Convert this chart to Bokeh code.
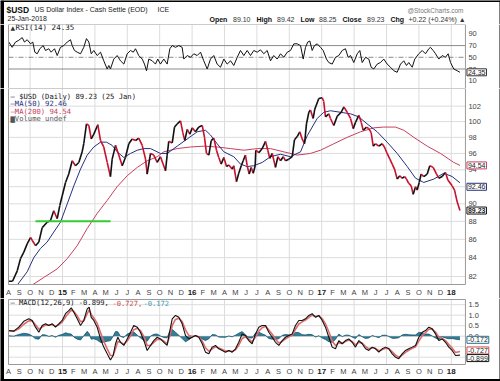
from bokeh.plotting import figure
from bokeh.layouts import column
from bokeh.models import Range1d, Label, Span
from bokeh.core.properties import value
from bokeh.embed import file_html
from bokeh.resources import INLINE

# ---------------- data (x = months since 1 Aug 2014) ----------------
price_t = [0.00,0.37,0.81,1.11,1.42,1.73,2.04,2.19,2.50,2.81,
           3.12,3.58,3.89,4.19,4.51,4.75,4.97,5.28,5.58,5.90,
           6.20,6.51,6.82,6.97,7.22,7.44,7.66,7.90,8.27,8.52,
           8.82,9.14,9.44,9.60,9.91,10.21,10.53,10.83,11.14,11.45,
           11.76,12.06,12.38,12.69,12.84,13.15,13.45,13.77,14.07,14.54,
           14.69,14.84,15.16,15.37,15.62,15.93,16.14,16.32,16.55,16.79,
           17.01,17.31,17.62,17.94,18.15,18.33,18.55,18.77,19.01,19.26,
           19.47,19.69,19.94,20.19,20.40,20.71,20.86,21.11,21.32,21.55,
           21.73,21.94,22.10,22.29,22.47,22.66,22.84,22.90,23.18,23.49,
           23.80,24.01,24.19,24.42,24.72,24.94,25.19,25.44,25.65,25.95,
           26.27,26.48,26.73,26.97,27.19,27.41,27.59,27.81,27.96,28.21,
           28.36,28.73,29.05,29.19,29.35,29.66,29.81,30.12,30.44,30.81,
           31.05,31.36,31.67,31.92,32.13,32.44,32.66,32.84,33.15,33.36,
           33.58,33.77,33.98,34.29,34.60,34.81,35.06,35.31,35.53,35.74,
           35.99,36.23,36.45,36.67,36.85,37.06,37.29,37.47,37.69,37.84,
           38.03,38.21,38.45,38.77,39.01,39.32,39.63,39.84,40.16,40.46,
           40.68,41.08,41.30,41.55,41.80]
price = [81.5,81.5,82.6,83.9,84.6,85.5,86.2,85.9,85.3,85.7,
         87.3,87.9,88.1,89.2,88.3,89.8,90.9,92.5,93.5,95.1,
         94.5,94.9,96.2,97.2,99.7,99.5,97.8,98.4,99.6,97.6,
         96.8,94.9,93.2,95.3,97.0,95.8,94.5,95.5,97.2,97.8,
         97.6,97.9,97.0,95.3,93.5,96.0,95.8,94.9,95.6,93.9,
         95.8,97.5,97.3,99.3,99.7,100.1,98.6,97.6,99.0,98.4,
         99.2,98.7,99.3,99.5,98.0,96.0,95.8,97.6,97.9,96.4,
         95.5,94.7,95.5,94.4,94.6,94.1,94.5,92.6,93.6,94.5,
         95.1,95.8,94.5,93.5,94.3,93.6,94.5,96.4,96.1,96.6,
         97.5,96.4,95.4,96.0,94.3,95.6,95.1,95.6,95.1,95.3,
         95.6,97.7,98.1,98.7,97.8,97.2,99.7,101.2,101.5,100.4,
         101.6,103.0,103.1,102.6,100.6,101.0,100.4,99.5,100.7,101.2,
         101.9,101.2,100.4,99.1,99.9,100.8,99.9,98.9,99.3,99.1,
         98.6,96.9,97.2,96.9,97.2,96.8,96.0,95.3,94.7,94.1,
         92.9,93.3,93.0,93.2,92.9,92.4,92.1,91.1,92.0,91.6,
         92.5,93.5,93.2,93.5,94.5,94.3,93.5,93.0,93.2,93.7,
         92.8,92.1,91.6,90.2,89.23]

ma50_t = [0.74,1.73,2.34,2.96,3.58,4.19,4.81,5.44,6.05,6.67,
          7.29,7.90,8.52,9.07,9.60,10.06,10.68,11.30,11.92,12.53,
          13.15,14.07,14.69,15.62,16.55,17.47,18.24,18.70,19.32,19.94,
          20.86,21.48,22.10,22.71,23.49,24.26,25.19,26.11,27.04,27.66,
          28.58,29.19,29.81,30.74,31.67,32.44,33.21,34.14,35.06,35.99,
          36.92,37.69,38.45,39.38,40.31,41.08,41.80]
ma50 = [81.0,82.5,84.0,85.0,85.7,86.8,87.9,90.0,92.1,94.1,
        95.8,96.8,97.4,97.4,97.0,96.2,95.5,96.0,96.4,96.6,
        96.6,96.0,96.0,96.9,97.8,98.7,98.9,98.3,97.2,96.2,
        95.6,94.7,94.4,94.5,94.9,95.6,95.9,95.6,96.2,98.2,
        100.4,101.2,101.4,101.2,101.0,100.6,99.7,98.7,97.4,96.0,
        94.4,93.0,92.5,92.9,93.6,93.2,92.46]

ma200_t = [2.04,3.27,4.51,5.44,6.36,7.29,8.21,9.14,10.06,10.99,
           11.92,12.84,13.77,14.38,15.62,16.85,18.08,19.32,20.56,21.79,
           23.03,24.26,25.49,26.73,27.96,28.89,30.12,31.36,32.59,33.82,
           34.75,35.83,36.60,37.53,38.77,40.00,41.23,41.80]
ma200 = [81.0,81.9,82.8,83.9,85.3,87.2,88.9,90.4,92.0,93.3,
         94.3,95.1,95.6,96.2,96.6,96.8,96.9,96.8,96.6,96.4,
         96.6,96.6,96.2,95.8,96.0,96.4,97.2,98.0,98.7,99.2,
         99.3,99.3,98.9,98.0,96.9,96.0,94.9,94.54]

rsi_t = [0.03,0.34,0.65,0.95,1.27,1.48,1.73,2.04,2.25,2.44,
         2.66,2.90,3.21,3.43,3.73,3.95,4.26,4.51,4.81,5.12,
         5.44,5.74,5.90,6.11,6.36,6.67,6.97,7.22,7.44,7.66,
         7.90,8.21,8.52,8.82,9.14,9.29,9.44,9.75,10.06,10.37,
         10.68,10.99,11.30,11.55,11.76,12.06,12.38,12.59,12.78,12.99,
         13.31,13.61,13.82,14.07,14.38,14.69,14.94,15.16,15.46,15.77,
         16.08,16.23,16.55,16.85,17.16,17.47,17.78,18.08,18.40,18.70,
         19.01,19.32,19.63,19.94,20.25,20.56,20.86,21.18,21.48,21.79,
         22.10,
         22.41,22.71,23.03,23.33,23.64,23.95,24.26,24.56,24.88,25.19,
         25.49,25.81,26.11,26.42,26.73,27.04,27.29,27.50,27.71,27.90,
         28.12,28.33,28.58,28.89,29.14,29.44,29.66,29.97,30.28,30.58,
         30.90,31.20,31.45,31.67,31.97,32.29,32.53,32.75,33.06,33.36,
         33.58,33.82,34.14,34.44,34.75,35.06,35.37,35.68,35.99,36.30,
         36.60,36.85,37.06,37.38,37.62,37.99,38.31,38.61,38.92,39.07,
         39.32,39.54,39.84,40.16,40.46,40.71,40.93,41.23,41.55,41.80]
rsi = [76,67,76,79,83.7,76,80,73,76,58.7,
       56,64.6,70,61.6,64.6,58.7,64.6,53,67,70,
       76,80,70,61.6,58.7,56,67,81.9,76,56,
       61.6,53,58.7,44,30,36,30,47,53,44,
       38.4,56,61.6,58.7,64.6,53,47,38.4,27,47,
       44,38.4,47,38.4,47,38.4,64.6,70,67,70,
       67,47,53,50,56,53,58.7,44,30,47,
       53,38.4,33,47,38.4,44,36,50,61.6,53,
       61.6,
       53,61.6,58.7,62.7,56,61.6,44,53,47,56,
       50,58.7,61.6,73,73,70,47,67,76,77.8,
       61.6,70,73,67,61.6,47,41,38.4,50,53,
       61.6,64.6,50,53,41,56,61.6,41,50,47,
       33,30,38.4,41,47,38.4,33,27,24.4,38.4,
       44,36,41,33,47,56,61.6,56,64.6,67,
       61.6,56,47,53,50,56,41,30,27,24.35]

macd_t = [0.03,0.49,0.95,1.42,1.88,2.19,2.50,2.81,3.12,3.43,
          3.73,4.05,4.35,4.66,4.97,5.28,5.58,5.81,6.05,6.36,
          6.67,6.97,7.29,7.47,7.66,7.90,8.21,8.52,8.82,9.14,
          9.44,9.69,9.91,10.12,10.37,10.68,10.99,11.30,11.60,11.92,
          12.22,12.59,12.84,13.15,13.45,13.77,14.07,14.38,14.69,14.94,
          15.16,15.46,15.77,16.08,16.39,16.69,17.01,17.31,17.62,17.94,
          18.24,18.55,18.86,19.17,19.47,19.79,20.09,20.40,20.71,21.02,
          21.32,21.64,21.94,22.25,22.56,22.87,23.18,23.49,23.80,24.10,
          24.42,24.72,25.03,25.34,25.65,25.95,26.27,26.57,26.88,27.19,
          27.50,27.81,28.12,28.43,28.73,29.05,29.35,29.66,29.97,30.28,
          30.58,30.90,31.20,31.51,31.82,32.13,32.44,32.75,33.06,33.36,
          33.68,33.98,34.29,34.60,34.91,35.21,35.53,35.83,36.14,36.45,
          36.76,37.06,37.38,37.69,37.99,38.31,38.61,38.92,39.23,39.54,
          39.84,40.16,40.46,40.77,41.08,41.39,41.80]
macd = [0.27,0.24,0.43,0.71,0.83,0.75,0.43,0.19,0.51,0.59,
        0.51,0.59,0.43,0.59,0.75,1.07,1.22,1.35,1.14,0.83,
        0.51,0.75,1.30,1.38,0.90,0.75,0.43,-0.13,-0.52,-0.84,
        -1.13,-0.92,-0.36,-0.05,-0.29,-0.44,-0.13,0.19,0.51,0.43,
        0.19,-0.29,-0.68,-0.44,-0.21,-0.05,-0.13,-0.29,-0.44,0.27,
        0.83,0.99,0.90,0.59,0.03,-0.13,-0.05,0.03,-0.05,-0.36,
        -0.76,-0.84,-0.52,-0.44,-0.60,-0.68,-0.76,-0.68,-0.76,-0.60,
        -0.29,0.11,0.03,-0.21,-0.36,0.11,0.43,0.51,0.51,0.19,
        -0.05,-0.29,-0.44,-0.21,-0.05,0.03,0.11,0.51,0.75,0.75,
        0.83,0.99,1.07,0.90,0.99,0.75,0.43,-0.05,-0.52,-0.60,
        -0.21,-0.36,-0.21,-0.13,-0.29,-0.52,-0.21,-0.36,-0.60,-0.68,
        -0.52,-0.60,-0.76,-0.60,-0.52,-0.60,-0.84,-1.00,-1.07,-0.84,
        -0.68,-0.60,-0.52,-0.44,-0.05,0.19,0.27,0.43,0.35,0.11,
        -0.21,-0.13,-0.29,-0.52,-0.68,-0.92,-0.899]
macd_signal = [0.25,0.24,0.35,0.57,0.73,0.74,0.55,0.33,0.44,0.53,
               0.52,0.56,0.48,0.55,0.67,0.91,1.10,1.25,1.18,0.97,
               0.69,0.73,1.07,1.26,1.04,0.87,0.61,0.17,-0.24,-0.60,
               -0.92,-0.92,-0.58,-0.26,-0.28,-0.38,-0.23,0.02,0.31,0.38,
               0.27,-0.07,-0.44,-0.44,-0.30,-0.15,-0.14,-0.23,-0.36,0.02,
               0.51,0.80,0.86,0.70,0.30,0.04,-0.01,0.01,-0.03,-0.23,
               -0.55,-0.72,-0.60,-0.50,-0.56,-0.63,-0.71,-0.69,-0.73,-0.65,
               -0.43,-0.11,-0.03,-0.14,-0.27,-0.04,0.24,0.40,0.47,0.30,
               0.09,-0.14,-0.32,-0.25,-0.13,-0.03,0.05,0.33,0.58,0.68,
               0.77,0.90,1.00,0.94,0.97,0.84,0.59,0.21,-0.23,-0.45,
               -0.31,-0.34,-0.26,-0.18,-0.25,-0.41,-0.29,-0.33,-0.49,-0.60,
               -0.55,-0.58,-0.69,-0.64,-0.57,-0.59,-0.74,-0.90,-1.00,-0.90,
               -0.77,-0.67,-0.58,-0.50,-0.23,0.02,0.17,0.33,0.34,0.20,
               -0.05,-0.10,-0.21,-0.40,-0.57,-0.78,-0.727]
macd_hist = [0.02,0.00,0.08,0.14,0.10,0.01,-0.12,-0.14,0.07,0.06,
             -0.01,0.03,-0.05,0.04,0.08,0.16,0.12,0.10,-0.04,-0.14,
             -0.18,0.02,0.23,0.12,-0.14,-0.12,-0.18,-0.30,-0.28,-0.24,
             -0.21,0.00,0.22,0.21,-0.01,-0.06,0.10,0.17,0.20,0.05,
             -0.08,-0.22,-0.24,0.00,0.09,0.10,0.01,-0.06,-0.08,0.25,
             0.32,0.19,0.04,-0.11,-0.27,-0.17,-0.04,0.02,-0.02,-0.13,
             -0.21,-0.12,0.08,0.06,-0.04,-0.05,-0.05,0.01,-0.03,0.05,
             0.14,0.22,0.06,-0.07,-0.09,0.15,0.19,0.11,0.04,-0.11,
             -0.14,-0.15,-0.12,0.04,0.08,0.06,0.06,0.18,0.17,0.07,
             0.06,0.09,0.07,-0.04,0.02,-0.09,-0.16,-0.26,-0.29,-0.15,
             0.10,-0.02,0.05,0.05,-0.04,-0.11,0.08,-0.03,-0.11,-0.08,
             0.03,-0.02,-0.07,0.04,0.05,-0.01,-0.10,-0.10,-0.07,0.06,
             0.09,0.07,0.06,0.06,0.18,0.17,0.10,0.10,0.01,-0.09,
             -0.16,-0.03,-0.08,-0.12,-0.11,-0.14,-0.172]

month_labels = ["A", "S", "O", "N", "D", "15",
                "F", "M", "A", "M", "J", "J", "A", "S", "O", "N", "D", "16",
                "F", "M", "A", "M", "J", "J", "A", "S", "O", "N", "D", "17",
                "F", "M", "A", "M", "J", "J", "A", "S", "O", "N", "D", "18"]
quarter_months = [2, 5, 8, 11, 14, 17, 20, 23, 26, 29, 32, 35, 38, 41]

support_t = [2.5, 9.45]
support_level = [88.0, 88.0]

rsi_ticks = [10, 30, 50, 70, 90]
rsi_levels = [30, 70]
price_ticks = [82, 84, 86, 88, 90, 92, 94, 96, 98, 100, 102]
macd_ticks = [0.0, 0.5, 1.0, 1.5]
macd_grid = [-1.0, -0.5, 0.0, 0.5, 1.0, 1.5]

header_main = ["US Dollar Index - Cash Settle (EOD)", "ICE"]
quote_names = ["Open", "High", "Low", "Close", "Chg"]
quote_values = ["89.10", "89.42", "88.25", "89.23", "+0.22 (+0.24%) \u25b2"]

# ---------------- layout constants ----------------
PX_PER_MONTH = 10.8
X_MIN = -8 / PX_PER_MONTH           # canvas left edge
X_MAX = (500 - 8) / PX_PER_MONTH    # canvas right edge
X_END = 42.31                       # right edge of the plotting panels

SANS = "Liberation Sans"
MONO = "DejaVu Sans Mono"
GRID = "#dcdcdc"
BORDER = "#9a9a9a"
AX_TXT = "#444444"
UP = "#111111"
DOWN = "#c8102e"
MA50_C = "#26307f"
MA200_C = "#c8405e"
TEAL = "#1f6f8b"

x_range = Range1d(X_MIN, X_MAX)


def make_fig(height, y_range, log=False):
    p = figure(width=500, height=height, x_range=x_range, y_range=y_range,
               y_axis_type="log" if log else "linear",
               x_axis_location=None, y_axis_location=None,
               toolbar_location=None, output_backend="svg", min_border=0)
    p.outline_line_color = None
    p.grid.visible = False
    # outer black frame of the picture
    p.add_layout(Span(location=X_MIN, dimension="height", line_color="black", line_width=7))
    p.add_layout(Span(location=X_MAX, dimension="height", line_color="black", line_width=2))
    return p


def panel(p, ybot, ytop, hgrid):
    n = len(quarter_months)
    p.segment(x0=quarter_months, x1=quarter_months, y0=[ybot] * n, y1=[ytop] * n,
              line_color=GRID, line_width=1)
    if hgrid:
        k = len(hgrid)
        p.segment(x0=[0] * k, x1=[X_END] * k, y0=hgrid, y1=hgrid,
                  line_color=GRID, line_width=1)


def panel_border(p, ybot, ytop):
    p.quad(left=[0], right=[X_END], bottom=[ybot], top=[ytop], fill_color=None,
           line_color=BORDER, line_width=1)


def right_labels(p, ticks, labels):
    p.text(x=[X_END] * len(ticks), y=ticks, text=labels, x_offset=3,
           text_font=value(SANS), text_font_size="7.5px", text_color=AX_TXT,
           text_baseline="middle")


def month_axis(p, y):
    reg = [(i, l) for i, l in enumerate(month_labels) if not l.isdigit()]
    yrs = [(i, l) for i, l in enumerate(month_labels) if l.isdigit()]
    p.text(x=[i for i, _ in reg], y=[y] * len(reg), text=[l for _, l in reg],
           text_font=value(SANS), text_font_size="7.5px", text_color=AX_TXT,
           text_align="center", text_baseline="middle")
    p.text(x=[i for i, _ in yrs], y=[y] * len(yrs), text=[l for _, l in yrs],
           text_font=value(SANS), text_font_size="8px", text_font_style="bold",
           text_color="#222222", text_align="center", text_baseline="middle")


def txt(p, x, y, text, size="7px", color="#222222", font=MONO, style="normal"):
    p.add_layout(Label(x=x, y=y, x_units="screen", y_units="screen", text=text,
                       text_font=font, text_font_size=size, text_color=color,
                       text_font_style=style, text_baseline="middle"))


def vbox(p, y, text, color, bold=False, yoff=0):
    p.add_layout(Label(x=X_END, y=y, x_offset=1.5, y_offset=yoff, text=text,
                       text_font=SANS, text_font_size="7px",
                       text_font_style="bold" if bold else "normal",
                       text_color="#222222", text_baseline="middle",
                       border_line_color=color, border_line_width=1,
                       background_fill_color="white", padding=1))


# ---------------- header strip (pixel coordinates) ----------------
ph0 = figure(width=500, height=24, x_range=Range1d(0, 500), y_range=Range1d(24, 0),
             x_axis_location=None, y_axis_location=None, toolbar_location=None,
             output_backend="svg", min_border=0)
ph0.outline_line_color = None
ph0.grid.visible = False
ph0.segment(x0=[0], x1=[500], y0=[0.5], y1=[0.5], line_color="black", line_width=2)
ph0.segment(x0=[1.5], x1=[1.5], y0=[0], y1=[24], line_color="black", line_width=4)
ph0.segment(x0=[499.5], x1=[499.5], y0=[0], y1=[24], line_color="black", line_width=1)
ph0.text(x=[6], y=[9], text=["$USD"], text_font=value(SANS), text_font_size="8.5px",
         text_font_style="bold", text_color="#111111", text_baseline="middle")
ph0.text(x=[34, 157], y=[9, 9], text=header_main, text_font=value(SANS),
         text_font_size="7px", text_color="#222222", text_baseline="middle")
ph0.text(x=[7], y=[17.5], text=["25-Jan-2018"], text_font=value(SANS),
         text_font_size="7px", text_color="#222222", text_baseline="middle")
ph0.text(x=[463], y=[10], text=["@StockCharts.com"], text_font=value(SANS),
         text_font_size="6.5px", text_color="#777777", text_align="right",
         text_baseline="middle")
ph0.text(x=[209, 256, 300, 342, 390], y=[18.5] * 5, text=quote_names,
         text_font=value(SANS), text_font_size="7px", text_font_style="bold",
         text_color="#111111", text_baseline="middle")
ph0.text(x=[232.5, 276.5, 318.5, 366.5, 408], y=[18.5] * 5, text=quote_values,
         text_font=value(SANS), text_font_size="7px", text_color="#333333",
         text_baseline="middle")

# ---------------- RSI panel ----------------
RSI_BOT, RSI_TOP = -3.3, 106
p1 = make_fig(64, Range1d(RSI_BOT, RSI_TOP))
panel(p1, RSI_BOT, RSI_TOP, None)
p1.segment(x0=[0, 0], x1=[X_END, X_END], y0=rsi_levels, y1=rsi_levels,
           line_color="#8a8a8a", line_width=1)
p1.segment(x0=[0], x1=[X_END], y0=[50], y1=[50], line_color="#8a8a8a",
           line_width=1, line_dash="5 2 1 2")
p1.line(rsi_t, rsi, line_color="#111111", line_width=1)
panel_border(p1, RSI_BOT, RSI_TOP)
right_labels(p1, rsi_ticks, [str(t) for t in rsi_ticks])
vbox(p1, rsi[-1], "24.35", "#333333")
txt(p1, 10, 61, "\u25b2", size="6px", font="DejaVu Sans", color="#333333")
txt(p1, 15, 61, "RSI(14) 24.35", size="7.5px", color="#222222")

# ---------------- price panel ----------------
P_LO, P_HI = 79.72, 104.33          # canvas bottom / top
P_BOT = 81.16                       # bottom of the plotting panel
P_XLAB = 80.33                      # month labels row
p2 = make_fig(210, Range1d(P_LO, P_HI), log=True)
panel(p2, P_BOT, P_HI, price_ticks)
p2.line(ma200_t, ma200, line_color=MA200_C, line_width=1)
p2.line(ma50_t, ma50, line_color=MA50_C, line_width=1)
seg_col = [UP if b >= a else DOWN for a, b in zip(price[:-1], price[1:])]
p2.segment(x0=price_t[:-1], y0=price[:-1], x1=price_t[1:], y1=price[1:],
           line_color=seg_col, line_width=1.6)
p2.line(support_t, support_level, line_color="#33cc33", line_width=2)
# white mask below the plotting panel (label band)
p2.quad(left=[X_MIN], right=[X_END], bottom=[P_LO], top=[P_BOT], fill_color="white",
        line_color=None)
panel_border(p2, P_BOT, P_HI)
right_labels(p2, price_ticks, [str(t) for t in price_ticks])
month_axis(p2, P_XLAB)
vbox(p2, ma200[-1], "94.54", MA200_C)
vbox(p2, ma50[-1], "92.46", MA50_C, yoff=-4)
vbox(p2, price[-1], "89.23", "#111111", bold=True)
txt(p2, 10, 202, "\u2014 $USD (Daily) 89.23 (25 Jan)", size="7.2px", color="#111111")
txt(p2, 10, 194.7, "\u2014MA(50) 92.46", size="7.2px", color=MA50_C)
txt(p2, 10, 187, "\u2014MA(200) 94.54", size="7.2px", color=MA200_C)
txt(p2, 10, 179.7, "\u2586Volume undef", size="7.2px", color="#555555")

# ---------------- MACD panel ----------------
M_LO, M_HI = -2.157, 1.795          # canvas bottom / top
M_BOT, M_TOP = -1.348, 1.748        # plotting panel
M_XLAB = -1.681
p3 = make_fig(83, Range1d(M_LO, M_HI))
panel(p3, M_BOT, M_TOP, macd_grid)
p3.varea(x=macd_t, y1=[0.0] * len(macd_t), y2=macd_hist, fill_color=TEAL, fill_alpha=0.9)
p3.line(macd_t, macd_hist, line_color="#14506a", line_width=0.8)
p3.line(macd_t, macd_signal, line_color="#e06a6a", line_width=1.6)
p3.line(macd_t, macd, line_color="#111111", line_width=1.1)
panel_border(p3, M_BOT, M_TOP)
p3.add_layout(Span(location=M_LO, dimension="width", line_color="black", line_width=5))
right_labels(p3, macd_ticks, ["%.1f" % t for t in macd_ticks])
month_axis(p3, M_XLAB)
vbox(p3, macd_hist[-1], "-0.172", TEAL)
vbox(p3, macd_signal[-1], "-0.727", "#d04848", yoff=1)
vbox(p3, macd[-1], "-0.899", "#111111", yoff=-3)
txt(p3, 10, 79, "\u2014 MACD(12,26,9) -0.899,", size="7.1px", color="#111111")
txt(p3, 112, 79, "-0.727,", size="7.1px", color="#d04848")
txt(p3, 143, 79, "-0.172", size="7.1px", color="#3a9ab8")

layout = column(ph0, p1, p2, p3, spacing=0)
open("out.html", "w").write(file_html(layout, INLINE))
